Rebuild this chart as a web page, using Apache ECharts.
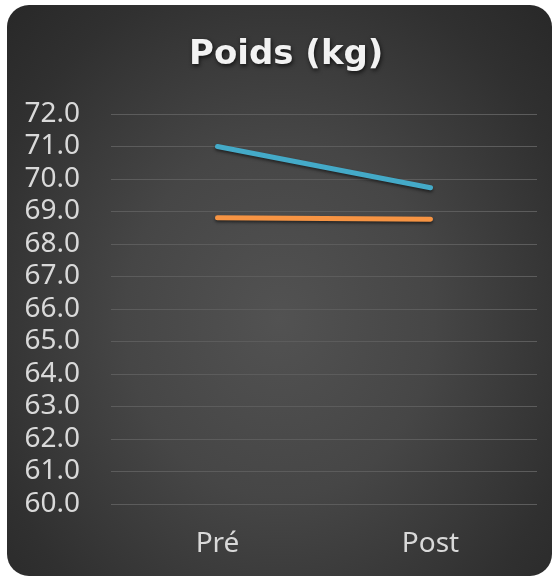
<!DOCTYPE html>
<html>
<head>
<meta charset="utf-8">
<script src="https://cdn.jsdelivr.net/npm/echarts@6/dist/echarts.min.js"></script>
<style>
html, body { margin: 0; padding: 0; background: #fff; }
#panel {
    position: absolute; left: 7px; top: 5px; width: 545px; height: 571px;
    border-radius: 22px; overflow: hidden;
    background: radial-gradient(ellipse at 50% 55%, #525252 0%, #464646 40%, #303030 80%, #282828 100%);
}
#main { position: absolute; left: -7px; top: -5px; width: 558px; height: 577px; }
</style>
</head>
<body>
<div id="panel"><div id="main"></div></div>
<script>
// categories and values
var categories = ['Pré', 'Post'];
var serieBleue = [71.0, 69.73];
var serieOrange = [68.81, 68.76];

var myChart = echarts.init(document.getElementById('main'));
var option = {
    backgroundColor: 'transparent',
    title: {
        text: 'Poids (kg)',
        left: 189,
        top: 38,
        padding: 0,
        textStyle: {
            fontFamily: 'DejaVu Sans',
            fontWeight: 'bold',
            fontSize: 34,
            color: '#f2f2f2',
            textShadowColor: 'rgba(0,0,0,0.7)',
            textShadowBlur: 4,
            textShadowOffsetX: 1,
            textShadowOffsetY: 2
        }
    },
    grid: {
        left: 111,
        right: 21,
        top: 114,
        bottom: 73
    },
    xAxis: {
        type: 'category',
        data: categories,
        boundaryGap: true,
        axisLine: { show: false },
        axisTick: { show: false },
        axisLabel: {
            color: '#d9d9d9',
            fontFamily: 'Noto Sans',
            fontSize: 28,
            margin: 26
        }
    },
    yAxis: {
        type: 'value',
        min: 60,
        max: 72,
        interval: 1,
        axisLine: { show: false },
        axisTick: { show: false },
        axisLabel: {
            color: '#d9d9d9',
            fontFamily: 'Noto Sans',
            fontSize: 28,
            margin: 31,
            formatter: function (v) { return v.toFixed(1); }
        },
        splitLine: { lineStyle: { color: '#5c5c5c', width: 1 } }
    },
    series: [
        {
            name: 'bleu',
            type: 'line',
            data: serieBleue,
            symbol: 'none',
            lineStyle: {
                color: '#44aac8', width: 5, cap: 'round',
                shadowColor: 'rgba(0,0,0,0.5)', shadowBlur: 3, shadowOffsetY: 2
            }
        },
        {
            name: 'orange',
            type: 'line',
            data: serieOrange,
            symbol: 'none',
            lineStyle: {
                color: '#f79443', width: 5, cap: 'round',
                shadowColor: 'rgba(0,0,0,0.5)', shadowBlur: 3, shadowOffsetY: 2
            }
        }
    ]
};
myChart.setOption(option);
</script>
</body>
</html>
